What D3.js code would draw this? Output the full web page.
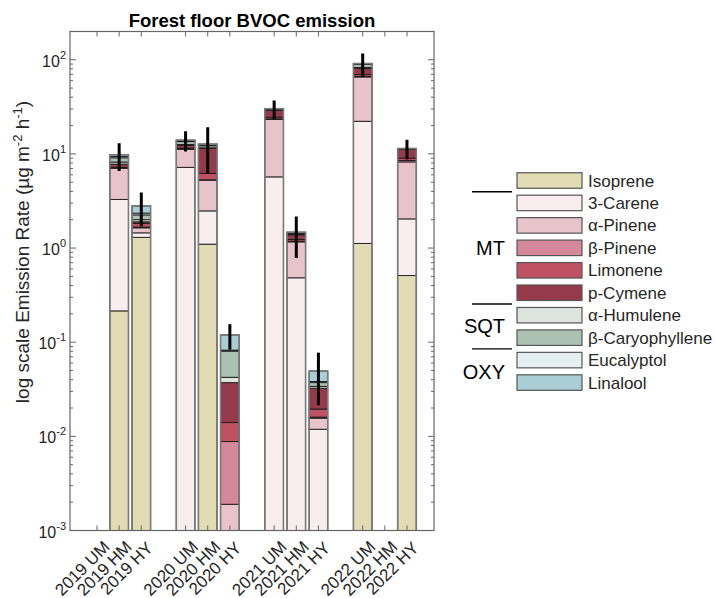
<!DOCTYPE html>
<html>
<head>
<meta charset="utf-8">
<script src="https://cdn.jsdelivr.net/npm/d3@7"></script>
<style>
  body { margin: 0; background: #fff; }
  text { font-family: "Liberation Sans", Arial, sans-serif; fill: #262626; }
</style>
</head>
<body>
<div id="chart"></div>
<script>
// Categories and x positions (gaps between years)
var categories = ["2019 UM", "2019 HM", "2019 HY", "2020 UM", "2020 HM", "2020 HY",
                  "2021 UM", "2021 HM", "2021 HY", "2022 UM", "2022 HM", "2022 HY"];
var positions = [1, 2, 3, 5, 6, 7, 9, 10, 11, 13, 14, 15];

// Compounds, stacked bottom to top
var compounds = ["Isoprene", "3-Carene", "α-Pinene", "β-Pinene", "Limonene", "p-Cymene",
                 "α-Humulene", "β-Caryophyllene", "Eucalyptol", "Linalool"];
var colors = ["#e2dcb4", "#f8eef0", "#e9c3cb", "#d4889a", "#bf5262", "#943a4a",
              "#dde3dd", "#abc1b2", "#e3eff1", "#a9ced6"];

// Emission rates (µg m-2 h-1) per compound, one value per category
var isoprene       = [0, 0.215, 1.30, 0,   1.10, 0,      0,    0,     0,      1.12, 0, 0.51];
var carene         = [0, 3.07,  0.15, 7.2, 1.38, 0,      5.7,  0.483, 0.0119, 21.1, 0, 1.53];
var aPinene        = [0, 3.76,  0.19, 4.0, 2.78, 0.0019, 17.5, 0.68,  0.0037, 43.4, 0, 6.18];
var bPinene        = [0, 0.05,  0.03, 0.1, 0.05, 0.0069, 0.3,  0.02,  0.0004, 1.0,  0, 0.3];
var limonene       = [0, 0.1,   0.15, 0.2, 0.9,  0.0052, 1.0,  0.05,  0.0035, 3.0,  0, 0.5];
var pCymene        = [0, 0.6,   0.08, 0.8, 5.2,  0.0232, 4.5,  0.15,  0.013,  11.0, 0, 2.2];
var aHumulene      = [0, 0.4,   0.1,  0.3, 0.2,  0.0052, 0.2,  0.01,  0.0015, 2.0,  0, 0.05];
var bCaryophyllene = [0, 0.9,   0.25, 0.9, 0.6,  0.038,  0.6,  0.04,  0.0032, 7.0,  0, 0.1];
var eucalyptol     = [0, 0.3,   0.1,  0.2, 0.1,  0.002,  0.1,  0.01,  0.001,  0.5,  0, 0.02];
var linalool       = [0, 0.4,   0.45, 0.3, 0.4,  0.037,  0.3,  0.03,  0.0112, 1.0,  0, 0.03];
var series = [isoprene, carene, aPinene, bPinene, limonene, pCymene,
              aHumulene, bCaryophyllene, eucalyptol, linalool];

// Error on the total
var errTotal = [0, 3.2, 1.1, 3.4, 6.5, 0.036, 6.7, 0.69, 0.028, 25.5, 0, 2.7];

// Legend groups
var groups = [{name: "MT", row: 3.0}, {name: "SQT", row: 6.5}, {name: "OXY", row: 8.55}];
var groupLines = [0.5, 5.5, 7.5];

var yTicks = [1e-3, 1e-2, 1e-1, 1e0, 1e1, 1e2];

// Set up SVG
var svgWdt = 715, svgHgt = 598;
var plot = {left: 70, right: 434, top: 31.5, bottom: 530.5};

var svg = d3.select("#chart").append("svg")
    .attr("width", svgWdt)
    .attr("height", svgHgt);

var xScale = d3.scaleLinear().domain([-0.22, 16.22]).range([plot.left, plot.right]);
var yScale = d3.scaleLog().domain([1e-3, Math.pow(10, 2.3)]).range([plot.bottom, plot.top]).clamp(true);
var barW = xScale(0.84) - xScale(0);

// Clip bars to plot
svg.append("clipPath").attr("id", "clip")
  .append("rect")
    .attr("x", plot.left).attr("y", plot.top)
    .attr("width", plot.right - plot.left).attr("height", plot.bottom - plot.top);

var barsGrp = svg.append("g").attr("clip-path", "url(#clip)");

categories.forEach(function(cat, i) {
    var cx = xScale(positions[i]);
    var cum = 0;
    var total = d3.sum(series, s => s[i]);
    if (total <= 0) return;
    series.forEach(function(s, j) {
        var v = s[i];
        if (v <= 0) return;
        var y0 = cum > 0 ? yScale(cum) : plot.bottom + 2;
        cum += v;
        var y1 = yScale(cum);
        barsGrp.append("rect")
            .attr("x", cx - barW / 2)
            .attr("y", y1)
            .attr("width", barW)
            .attr("height", y0 - y1)
            .attr("fill", colors[j])
            .attr("stroke", "#1a1a1a")
            .attr("stroke-width", 0.9);
    });
    // outer outline
    barsGrp.append("rect")
        .attr("x", cx - barW / 2)
        .attr("y", yScale(total))
        .attr("width", barW)
        .attr("height", plot.bottom + 2 - yScale(total))
        .attr("fill", "none")
        .attr("stroke", "#7a7a7a")
        .attr("stroke-width", 1.6);
    // error bar
    if (errTotal[i] > 0) {
        barsGrp.append("line")
            .attr("x1", cx).attr("x2", cx)
            .attr("y1", yScale(total + errTotal[i]))
            .attr("y2", yScale(Math.max(total - errTotal[i], 1e-3)))
            .attr("stroke", "#000")
            .attr("stroke-width", 3);
    }
});

// Axes box
svg.append("rect")
    .attr("x", plot.left).attr("y", plot.top)
    .attr("width", plot.right - plot.left).attr("height", plot.bottom - plot.top)
    .attr("fill", "none")
    .attr("stroke", "#666")
    .attr("stroke-width", 1.2);

// Y ticks (major + minor, inside on both sides)
var tickGrp = svg.append("g").attr("stroke", "#666").attr("stroke-width", 1);
for (var e = -3; e <= 2; e++) {
    for (var m = 1; m <= 9; m++) {
        var v = m * Math.pow(10, e);
        if (v > yScale.domain()[1]) continue;
        var yy = yScale(v);
        var len = (m === 1) ? 6 : 3;
        tickGrp.append("line").attr("x1", plot.left).attr("x2", plot.left + len).attr("y1", yy).attr("y2", yy);
        tickGrp.append("line").attr("x1", plot.right).attr("x2", plot.right - len).attr("y1", yy).attr("y2", yy);
    }
}
// X ticks (inside, top and bottom)
positions.forEach(function(p) {
    var xx = xScale(p);
    tickGrp.append("line").attr("x1", xx).attr("x2", xx).attr("y1", plot.bottom).attr("y2", plot.bottom - 5);
    tickGrp.append("line").attr("x1", xx).attr("x2", xx).attr("y1", plot.top).attr("y2", plot.top + 5);
});

// Y tick labels
yTicks.forEach(function(t) {
    var txt = svg.append("text")
        .attr("x", 66)
        .attr("y", yScale(t) + 7)
        .attr("text-anchor", "end")
        .style("font-size", "16px");
    txt.append("tspan").text("10");
    txt.append("tspan")
        .attr("dy", -8)
        .style("font-size", "11px")
        .text(String(Math.round(Math.log10(t))));
});

// X tick labels (rotated, centred below-left of each tick)
categories.forEach(function(cat, i) {
    var xx = xScale(positions[i]) - 15;
    svg.append("text")
        .attr("transform", `translate(${xx}, 568) rotate(-45)`)
        .attr("text-anchor", "middle")
        .attr("dy", "0.36em")
        .style("font-size", "17px")
        .text(cat);
});

// Y axis label
var yLbl = svg.append("text")
    .attr("transform", "translate(29, 252) rotate(-90)")
    .attr("text-anchor", "middle")
    .style("font-size", "19px");
yLbl.append("tspan").text("log scale Emission Rate (µg m");
yLbl.append("tspan").attr("dy", -7).style("font-size", "13px").text("-2");
yLbl.append("tspan").attr("dy", 7).text(" h");
yLbl.append("tspan").attr("dy", -7).style("font-size", "13px").text("-1");
yLbl.append("tspan").attr("dy", 7).text(")");

// Title
svg.append("text")
    .attr("x", (plot.left + plot.right) / 2)
    .attr("y", 27)
    .attr("text-anchor", "middle")
    .style("font-size", "18.5px")
    .style("font-weight", "bold")
    .style("fill", "#000")
    .text("Forest floor BVOC emission");

// Legend
var leg = {x: 517, y0: 180.5, pitch: 22.45, w: 65, h: 15.5};
var legGrp = svg.append("g");
compounds.forEach(function(c, i) {
    var cy = leg.y0 + i * leg.pitch;
    legGrp.append("rect")
        .attr("x", leg.x).attr("y", cy - leg.h / 2)
        .attr("width", leg.w).attr("height", leg.h)
        .attr("fill", colors[i])
        .attr("stroke", "#555")
        .attr("stroke-width", 1.2);
    legGrp.append("text")
        .attr("x", leg.x + leg.w + 6)
        .attr("y", cy + 6)
        .style("font-size", "17px")
        .text(c);
});
groupLines.forEach(function(r) {
    var yy = leg.y0 + r * leg.pitch;
    legGrp.append("line")
        .attr("x1", 472).attr("x2", 512)
        .attr("y1", yy).attr("y2", yy)
        .attr("stroke", "#000").attr("stroke-width", 1.3);
});
groups.forEach(function(g) {
    legGrp.append("text")
        .attr("x", 505)
        .attr("y", leg.y0 + g.row * leg.pitch + 7)
        .attr("text-anchor", "end")
        .style("font-size", "20px")
        .style("fill", "#000")
        .text(g.name);
});
</script>
</body>
</html>
